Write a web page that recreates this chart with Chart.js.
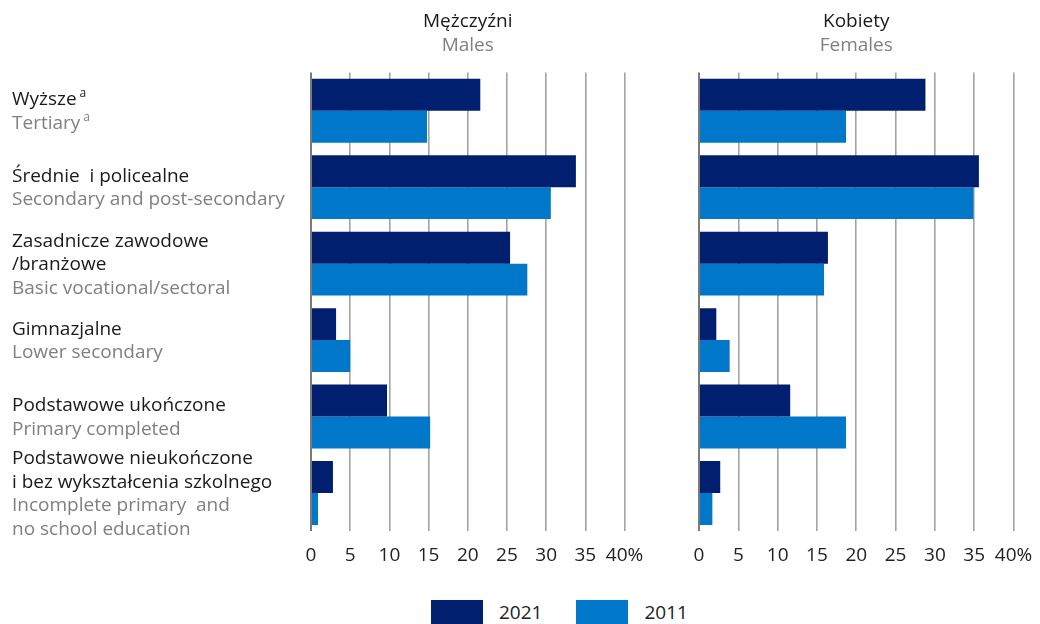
<!DOCTYPE html>
<html>
<head>
<meta charset="utf-8">
<script src="https://cdn.jsdelivr.net/npm/chart.js@4"></script>
<style>
    body { margin: 0; background: #fff; font-family: "Open Sans", sans-serif; }
    #wrap { position: relative; width: 1040px; height: 624px; overflow: hidden; }
    #males { position: absolute; left: 0; top: 0; }
    #females { position: absolute; left: 660px; top: 0; }
    #legend { position: absolute; left: 431px; top: 599px; display: flex; align-items: center; }
    .lg-item { display: flex; align-items: center; margin-right: 34px; }
    .lg-box { width: 52px; height: 25px; margin-right: 16px; }
    .lg-text { font-size: 19px; color: #222; }
</style>
</head>
<body>
<div id="wrap">
    <canvas id="males" width="660" height="580"></canvas>
    <canvas id="females" width="410" height="580"></canvas>
    <div id="legend"></div>
</div>
<script>
// ── Dane ──
const categoriesPl = [
    ['Wyższe'],
    ['Średnie  i policealne'],
    ['Zasadnicze zawodowe', '/branżowe'],
    ['Gimnazjalne'],
    ['Podstawowe ukończone'],
    ['Podstawowe nieukończone', 'i bez wykształcenia szkolnego']
];
const categoriesEn = [
    ['Tertiary'],
    ['Secondary and post-secondary'],
    ['Basic vocational/sectoral'],
    ['Lower secondary'],
    ['Primary completed'],
    ['Incomplete primary  and', 'no school education']
];
const footnotes = ['a', '', '', '', '', ''];

const seriesLabels = ['2021', '2011'];
const seriesColors = ['#001f6e', '#0077c8'];

const males2021 = [21.6, 33.8, 25.4, 3.2, 9.7, 2.8];
const males2011 = [14.8, 30.6, 27.6, 5.0, 15.2, 0.9];
const females2021 = [28.8, 35.6, 16.4, 2.2, 11.6, 2.7];
const females2011 = [18.7, 34.9, 15.9, 3.9, 18.7, 1.7];

const xTickLabels = ['0', '5', '10', '15', '20', '25', '30', '35', '40%'];
const panelTitlesPl = ['Mężczyźni', 'Kobiety'];
const panelTitlesEn = ['Males', 'Females'];

const FONT = '"Open Sans", sans-serif';
const DARK = '#1a1a1a';
const GREY = '#808080';

// ── Tytuł panelu ──
const panelTitlePlugin = {
    id: 'panelTitle',
    afterDraw(chart, args, opts) {
        const { ctx, chartArea } = chart;
        const cx = (chartArea.left + chartArea.right) / 2;
        ctx.save();
        ctx.textAlign = 'center';
        ctx.textBaseline = 'middle';
        ctx.font = '19px ' + FONT;
        ctx.fillStyle = DARK;
        ctx.fillText(opts.pl, cx, 22);
        ctx.fillStyle = GREY;
        ctx.fillText(opts.en, cx, 46);
        ctx.restore();
    }
};

// ── Etykiety kategorii (po lewej) ──
const categoryLabelPlugin = {
    id: 'categoryLabels',
    afterDraw(chart) {
        const { ctx } = chart;
        const yScale = chart.scales.y;
        const lineH = 23.5;
        ctx.save();
        ctx.textAlign = 'left';
        ctx.textBaseline = 'middle';
        categoriesPl.forEach((pl, i) => {
            const en = categoriesEn[i];
            const lines = pl.map(t => ({ t, c: DARK })).concat(en.map(t => ({ t, c: GREY })));
            const yc = yScale.getPixelForValue(i) + 1;
            const y0 = yc - (lines.length - 1) * lineH / 2;
            lines.forEach((ln, j) => {
                const y = y0 + j * lineH;
                ctx.font = '19px ' + FONT;
                ctx.fillStyle = ln.c;
                ctx.fillText(ln.t, 12, y);
                const isFirstOfLang = (j === 0) || (j === pl.length);
                if (footnotes[i] && isFirstOfLang) {
                    const w = ctx.measureText(ln.t).width;
                    ctx.font = '12px ' + FONT;
                    ctx.fillText(footnotes[i], 12 + w + 3, y - 6);
                }
            });
        });
        ctx.restore();
    }
};

function makeChart(canvasId, d2021, d2011, titleIdx, padding, extraPlugins) {
    const ctx = document.getElementById(canvasId).getContext('2d');
    return new Chart(ctx, {
        type: 'bar',
        data: {
            labels: categoriesEn.map(c => c.join(' ')),
            datasets: [
                { label: seriesLabels[0], data: d2021, backgroundColor: seriesColors[0] },
                { label: seriesLabels[1], data: d2011, backgroundColor: seriesColors[1] }
            ]
        },
        options: {
            indexAxis: 'y',
            responsive: false,
            animation: false,
            layout: { padding },
            datasets: { bar: { categoryPercentage: 0.835, barPercentage: 1 } },
            plugins: {
                legend: { display: false },
                tooltip: { enabled: false },
                panelTitle: { pl: panelTitlesPl[titleIdx], en: panelTitlesEn[titleIdx] }
            },
            scales: {
                y: { display: false },
                x: {
                    min: 0,
                    max: 40,
                    border: { display: false },
                    grid: {
                        drawTicks: false,
                        color: c => c.tick && c.tick.value === 0 ? '#7a7a7a' : '#a3a3a3',
                        lineWidth: c => c.tick && c.tick.value === 0 ? 2 : 1.6
                    },
                    ticks: {
                        stepSize: 5,
                        autoSkip: false,
                        padding: 13,
                        color: '#222',
                        font: { family: FONT, size: 19 },
                        maxRotation: 0,
                        minRotation: 0,
                        callback: (v, i) => xTickLabels[i]
                    }
                }
            }
        },
        plugins: [panelTitlePlugin].concat(extraPlugins)
    });
}

makeChart('males', males2021, males2011, 0,
    { left: 311, right: 35.5, top: 72.5, bottom: 0 }, [categoryLabelPlugin]);
makeChart('females', females2021, females2011, 1,
    { left: 39, right: 56.5, top: 72.5, bottom: 0 }, []);

// ── Legenda ──
const legendEl = document.getElementById('legend');
seriesLabels.forEach((lab, i) => {
    const item = document.createElement('div');
    item.className = 'lg-item';
    item.innerHTML = `<div class="lg-box" style="background:${seriesColors[i]}"></div><span class="lg-text">${lab}</span>`;
    legendEl.appendChild(item);
});
</script>
</body>
</html>
